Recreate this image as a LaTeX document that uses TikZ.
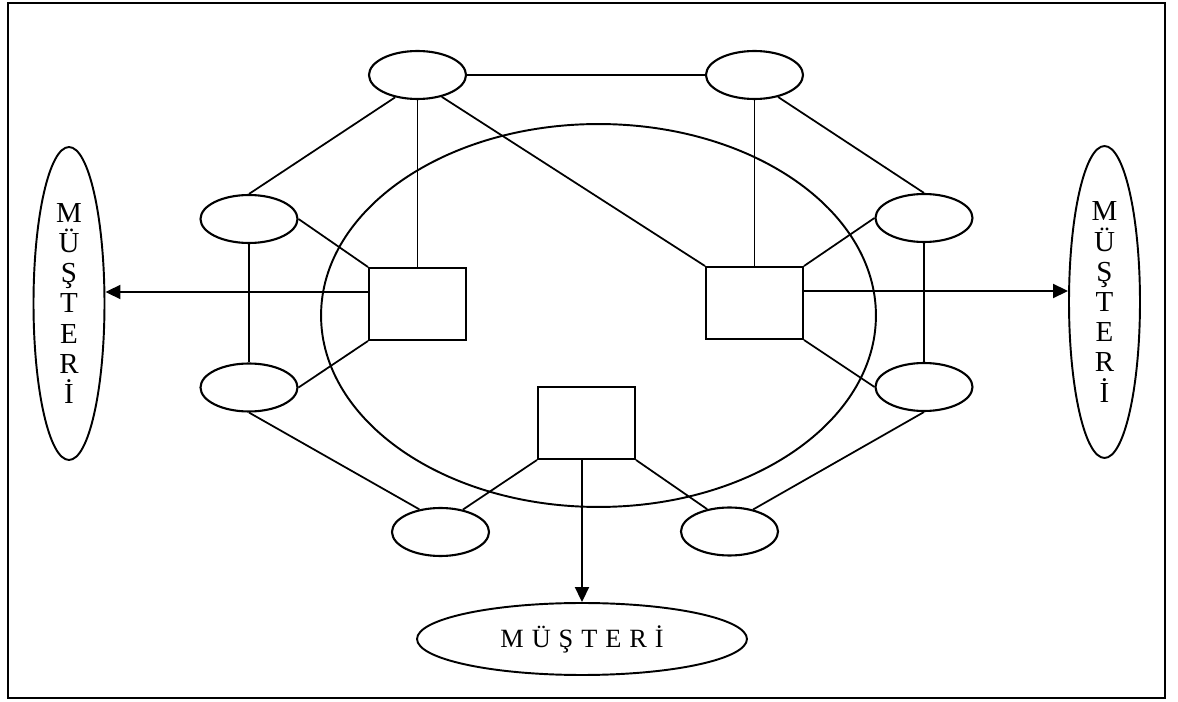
\documentclass[tikz,border=0pt]{standalone}
\usepackage{fontspec}
\setmainfont{Liberation Serif}
\usetikzlibrary{shapes.geometric,arrows.meta}
\begin{document}
\begin{tikzpicture}[x=0.02cm,y=-0.02cm,
  ln/.style={line width=1pt},
  small/.style={ellipse,draw,line width=1.2pt,minimum width=1.94cm,minimum height=0.96cm,inner sep=0pt},
  box/.style={draw,line width=1.1pt,minimum width=1.94cm,minimum height=1.44cm,inner sep=0pt},
  cust/.style={ellipse,draw,line width=1.1pt,inner sep=0pt,font=\fontsize{15}{17.5}\selectfont,align=center},
  vcust/.style={cust,font=\fontsize{16.5}{17.2}\selectfont},
  arr/.style={line width=1.1pt,-{Triangle[length=0.3cm,width=0.28cm]}}]
\useasboundingbox (0,0) rectangle (1178,702);
\draw[line width=0.8pt] (8,3) rectangle (1165,698);
% big ring
\node[ellipse,draw,line width=1.1pt,minimum width=11.1cm,minimum height=7.66cm,inner sep=0pt] (big) at (598.5,315.5) {};
% small ellipses
\node[small] (tl) at (417.5,75) {};
\node[small] (tr) at (754.5,75) {};
\node[small] (lu) at (249,219) {};
\node[small] (ll) at (249,387.5) {};
\node[small] (ru) at (924,218) {};
\node[small] (rl) at (924,387) {};
\node[small] (bl) at (440.5,532) {};
\node[small] (br) at (729.5,531.5) {};
% boxes
\node[box] (lb) at (417.5,304) {};
\node[box] (rb) at (754.5,303) {};
\node[box] (bb) at (586.5,423) {};
% customers
\node[vcust,minimum width=1.42cm,minimum height=6.26cm] (lc) at (69,303.5) {M\\Ü\\Ş\\T\\E\\R\\İ};
\node[vcust,minimum width=1.42cm,minimum height=6.24cm] (rc) at (1104.5,302) {M\\Ü\\Ş\\T\\E\\R\\İ};
\node[cust,minimum width=6.6cm,minimum height=1.44cm] (bc) at (582,639) {M\hspace{4.5pt}Ü\hspace{4.5pt}Ş\hspace{4.5pt}T\hspace{4.5pt}E\hspace{4.5pt}R\hspace{4.5pt}İ};
% connectors
\draw[ln] (tl.east) -- (tr.west);
\draw[ln] (tl.225) -- (lu.north);
\draw[ln] (tl.south) -- (lb.north);
\draw[ln] (tl.318) -- (rb.north west);
\draw[ln] (tr.south) -- (rb.north);
\draw[ln] (tr.317) -- (ru.north);
\draw[ln] (lu.east) -- (lb.north west);
\draw[ln] (lu.south) -- (ll.north);
\draw[ln] (lb.south west) -- (ll.east);
\draw[ln] (ru.west) -- (rb.north east);
\draw[ln] (ru.south) -- (rl.north);
\draw[ln] (rb.south east) -- (rl.west);
\draw[ln] (ll.south) -- (bl.133);
\draw[ln] (bb.south west) -- (bl.45);
\draw[ln] (bb.south east) -- (br.135);
\draw[ln] (rl.south) -- (br.43);
% arrows
\path (lb.west) ++(0,-12) coordinate (la);
\path (rb.east) ++(0,-12) coordinate (ra);
\draw[arr] (la) -- (la -| lc.east);
\draw[arr] (ra) -- (ra -| rc.west);
\draw[arr] (bb.south -| bc.north) -- (bc.north);
\end{tikzpicture}
\end{document}
